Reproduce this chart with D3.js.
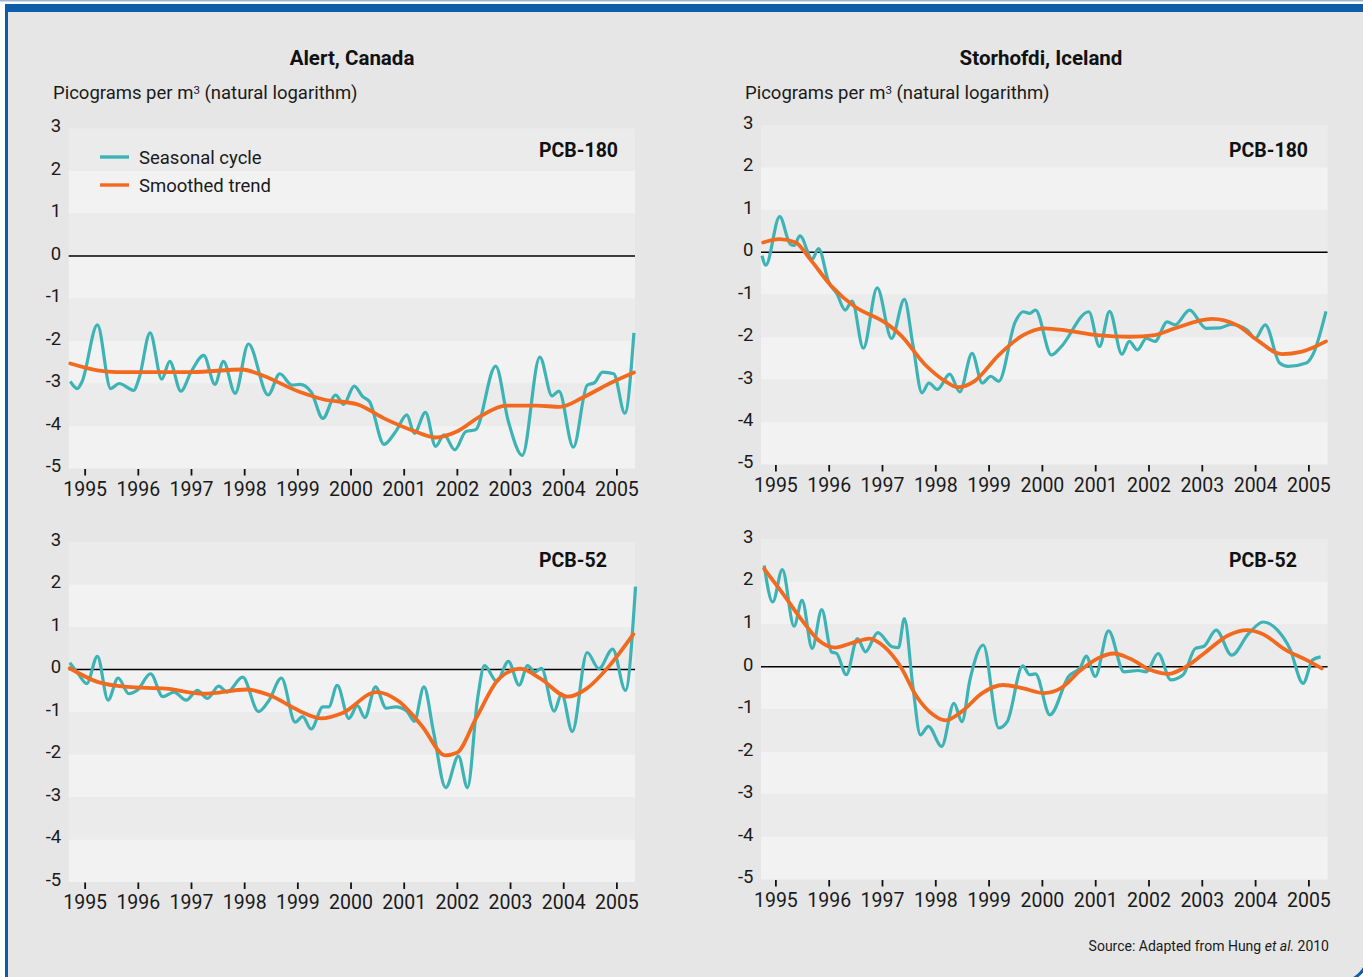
<!DOCTYPE html>
<html>
<head>
<meta charset="utf-8">
<script src="https://cdn.jsdelivr.net/npm/d3@7"></script>
<style>
  body { margin: 0; background: #fff; }
  svg { display: block; font-family: Roboto, "Open Sans", sans-serif; }
</style>
</head>
<body>
<script>
// ---- data ----
var years = [1995, 1996, 1997, 1998, 1999, 2000, 2001, 2002, 2003, 2004, 2005];
var yTicks = [3, 2, 1, 0, -1, -2, -3, -4, -5];
var stations = ["Alert, Canada", "Storhofdi, Iceland"];
var compounds = ["PCB-180", "PCB-52"];
var legendLabels = ["Seasonal cycle", "Smoothed trend"];

// [decimal year, ln(pg/m3)]
var alert180Seasonal = [
  [1994.73,-2.95],[1994.86,-3.12],[1994.95,-2.96],[1995.24,-1.62],[1995.49,-3.12],[1995.65,-3.0],
  [1995.92,-3.16],[1996.03,-2.85],[1996.23,-1.81],[1996.45,-2.9],[1996.6,-2.48],[1996.81,-3.18],
  [1997.0,-2.73],[1997.24,-2.34],[1997.45,-3.02],[1997.61,-2.48],[1997.83,-3.23],[1998.08,-2.07],
  [1998.45,-3.27],[1998.67,-2.77],[1998.9,-3.04],[1999.05,-3.02],[1999.26,-3.2],[1999.48,-3.82],
  [1999.72,-3.27],[1999.87,-3.49],[2000.07,-3.06],[2000.23,-3.31],[2000.36,-3.43],[2000.63,-4.43],
  [2000.85,-4.13],[2001.06,-3.74],[2001.2,-4.17],[2001.41,-3.68],[2001.6,-4.48],[2001.76,-4.21],
  [2001.96,-4.56],[2002.17,-4.13],[2002.35,-4.09],[2002.73,-2.59],[2002.97,-3.9],[2003.23,-4.69],
  [2003.56,-2.38],[2003.79,-3.29],[2003.92,-3.18],[2004.19,-4.5],[2004.45,-3.04],[2004.59,-2.98],
  [2004.74,-2.73],[2004.95,-2.77],[2005.16,-3.7],[2005.33,-1.81]
];
var alert180Trend = [
  [1994.73,-2.53],[1995.24,-2.69],[1995.6,-2.73],[1997.03,-2.73],[1997.97,-2.67],[1998.26,-2.77],
  [1999.05,-3.2],[1999.48,-3.37],[2000.13,-3.49],[2000.63,-3.82],[2001.2,-4.12],[2001.6,-4.27],
  [2002.0,-4.13],[2002.43,-3.78],[2002.93,-3.52],[2003.5,-3.52],[2003.94,-3.55],[2004.37,-3.33],
  [2004.87,-3.0],[2005.33,-2.74]
];
var alert52Seasonal = [
  [1994.72,0.16],[1994.88,-0.1],[1995.04,-0.33],[1995.24,0.31],[1995.44,-0.72],[1995.63,-0.2],
  [1995.83,-0.57],[1995.99,-0.49],[1996.24,-0.1],[1996.47,-0.64],[1996.68,-0.53],[1996.91,-0.72],
  [1997.12,-0.49],[1997.31,-0.68],[1997.52,-0.39],[1997.68,-0.53],[1997.97,-0.18],[1998.27,-0.99],
  [1998.47,-0.72],[1998.7,-0.2],[1998.96,-1.24],[1999.1,-1.11],[1999.26,-1.4],[1999.48,-0.88],
  [1999.59,-0.88],[1999.75,-0.37],[1999.97,-1.15],[2000.13,-0.85],[2000.27,-1.13],[2000.47,-0.41],
  [2000.67,-0.91],[2000.85,-0.88],[2001.06,-0.98],[2001.2,-1.22],[2001.38,-0.41],[2001.56,-1.46],
  [2001.79,-2.78],[2002.03,-2.04],[2002.2,-2.78],[2002.39,-0.68],[2002.52,0.09],[2002.75,-0.28],
  [2002.97,0.19],[2003.17,-0.37],[2003.33,0.09],[2003.47,-0.06],[2003.59,0.03],[2003.83,-0.98],
  [2003.97,-0.57],[2004.17,-1.46],[2004.45,0.4],[2004.67,0.02],[2004.93,0.48],[2005.17,-0.49],
  [2005.36,1.95]
];
var alert52Trend = [
  [1994.72,0.03],[1995.24,-0.29],[1995.81,-0.41],[1996.53,-0.45],[1997.25,-0.57],[1998.04,-0.47],
  [1998.47,-0.6],[1999.05,-0.98],[1999.45,-1.15],[1999.84,-1.03],[2000.49,-0.53],[2000.92,-0.76],
  [2001.35,-1.34],[2001.78,-2.02],[2002.0,-1.96],[2002.36,-1.15],[2002.79,-0.22],[2003.19,0.02],
  [2003.58,-0.22],[2004.08,-0.64],[2004.44,-0.45],[2004.87,0.09],[2005.32,0.83]
];
var storh180Seasonal = [
  [1994.75,-0.08],[1994.82,-0.3],[1995.08,0.84],[1995.28,0.19],[1995.35,0.16],[1995.46,0.39],
  [1995.69,-0.16],[1995.81,0.09],[1996.0,-0.7],[1996.15,-0.97],[1996.31,-1.36],[1996.44,-1.15],
  [1996.65,-2.26],[1996.91,-0.84],[1997.18,-2.03],[1997.42,-1.11],[1997.58,-2.18],[1997.75,-3.31],
  [1997.88,-3.08],[1998.04,-3.23],[1998.27,-2.87],[1998.46,-3.29],[1998.69,-2.38],[1998.88,-3.08],
  [1999.04,-2.92],[1999.19,-3.04],[1999.5,-1.64],[1999.65,-1.4],[1999.77,-1.44],[1999.88,-1.36],
  [2000.18,-2.42],[2000.35,-2.24],[2000.88,-1.4],[2001.08,-2.22],[2001.27,-1.39],[2001.5,-2.4],
  [2001.64,-2.1],[2001.79,-2.3],[2001.96,-2.03],[2002.12,-2.1],[2002.35,-1.64],[2002.5,-1.71],
  [2002.77,-1.36],[2003.08,-1.79],[2003.35,-1.78],[2003.54,-1.7],[2003.85,-1.83],[2004.0,-2.03],
  [2004.19,-1.71],[2004.46,-2.61],[2004.62,-2.69],[2004.96,-2.61],[2005.08,-2.42],[2005.33,-1.39]
];
var storh180Trend = [
  [1994.77,0.23],[1995.08,0.31],[1995.38,0.23],[1995.65,-0.16],[1996.04,-0.78],[1996.5,-1.29],
  [1997.04,-1.64],[1997.35,-1.95],[1997.81,-2.65],[1998.19,-3.04],[1998.42,-3.18],[1998.73,-3.04],
  [1999.19,-2.42],[1999.65,-1.95],[2000.04,-1.79],[2000.5,-1.85],[2001.04,-1.95],[2001.65,-1.99],
  [2002.12,-1.95],[2002.5,-1.79],[2003.19,-1.57],[2003.65,-1.71],[2004.04,-2.07],[2004.5,-2.4],
  [2004.88,-2.34],[2005.33,-2.1]
];
var storh52Seasonal = [
  [1994.79,2.38],[1994.95,1.52],[1995.13,2.28],[1995.35,0.95],[1995.5,1.56],[1995.69,0.43],
  [1995.87,1.34],[1996.05,0.35],[1996.15,0.31],[1996.33,-0.19],[1996.54,0.66],[1996.69,0.35],
  [1996.92,0.8],[1997.19,0.47],[1997.31,0.45],[1997.42,1.13],[1997.58,-0.47],[1997.72,-1.6],
  [1997.87,-1.4],[1998.12,-1.87],[1998.35,-0.86],[1998.5,-1.29],[1998.65,-0.31],[1998.9,0.51],
  [1999.19,-1.44],[1999.35,-1.29],[1999.64,0.02],[1999.77,-0.19],[1999.88,-0.17],[2000.15,-1.13],
  [2000.5,-0.23],[2000.73,0.0],[2000.83,0.25],[2001.0,-0.23],[2001.25,0.84],[2001.54,-0.12],
  [2001.81,-0.09],[2001.96,-0.12],[2002.18,0.31],[2002.42,-0.31],[2002.65,-0.19],[2002.88,0.43],
  [2003.04,0.48],[2003.27,0.86],[2003.56,0.27],[2003.88,0.78],[2004.15,1.05],[2004.42,0.86],
  [2004.65,0.43],[2004.9,-0.39],[2005.08,0.16],[2005.23,0.23]
];
var storh52Trend = [
  [1994.79,2.3],[1995.12,1.75],[1995.5,1.09],[1995.81,0.62],[1996.12,0.45],[1996.42,0.55],
  [1996.77,0.66],[1997.04,0.47],[1997.35,0.0],[1997.65,-0.7],[1997.96,-1.13],[1998.19,-1.26],
  [1998.5,-1.05],[1998.88,-0.62],[1999.27,-0.43],[1999.65,-0.51],[2000.04,-0.62],[2000.35,-0.51],
  [2000.73,-0.08],[2001.04,0.19],[2001.35,0.31],[2001.65,0.19],[2002.04,-0.08],[2002.38,-0.17],
  [2002.65,-0.04],[2003.04,0.31],[2003.5,0.74],[2003.85,0.86],[2004.12,0.78],[2004.58,0.39],
  [2004.96,0.16],[2005.25,-0.04]
];

// ---- layout ----
var W = 1363, H = 977;
var teal = "#3db3b6", orange = "#f26a1f", blue = "#0b5ea8";

var panels = [
  {col: 0, row: 0, seasonal: alert180Seasonal, trend: alert180Trend, x0: 68.7, x1: 635, yTop: 128.5, yBot: 468.5, xd: [1994.70, 2005.35]},
  {col: 1, row: 0, seasonal: storh180Seasonal, trend: storh180Trend, x0: 761, x1: 1327.6, yTop: 125, yBot: 464.5, xd: [1994.73, 2005.36]},
  {col: 0, row: 1, seasonal: alert52Seasonal, trend: alert52Trend, x0: 68.7, x1: 635, yTop: 542, yBot: 882, xd: [1994.70, 2005.35]},
  {col: 1, row: 1, seasonal: storh52Seasonal, trend: storh52Trend, x0: 761, x1: 1327.6, yTop: 539, yBot: 879.5, xd: [1994.73, 2005.36]}
];

var svg = d3.select("body").append("svg")
  .attr("width", W)
  .attr("height", H);

// frame
svg.append("rect").attr("width", W).attr("height", H).attr("fill", "#fff");
svg.append("path")
  .attr("d", "M6.5,8 L1368,8 L1368,954 A28,28 0 0 1 1340,982 L6.5,982 Z")
  .attr("fill", "#e6e6e6")
  .attr("stroke", blue)
  .attr("stroke-width", 3);
svg.append("rect").attr("x", 0).attr("y", 0).attr("width", W).attr("height", 1.5).attr("fill", "#9db7cf");
svg.append("rect").attr("x", 5).attr("y", 4).attr("width", W - 5).attr("height", 8).attr("fill", blue);

// station titles + axis titles
var titleX = [352, 1041], unitX = [53, 745];
stations.forEach(function(s, i) {
  svg.append("text")
    .attr("x", titleX[i]).attr("y", 65)
    .attr("text-anchor", "middle")
    .attr("font-size", 20.5).attr("font-weight", "bold").attr("fill", "#111")
    .text(s);
  var t = svg.append("text")
    .attr("x", unitX[i]).attr("y", 99)
    .attr("font-size", 18.5).attr("fill", "#1a1a1a");
  t.append("tspan").text("Picograms per m");
  t.append("tspan").attr("font-size", 11.5).attr("dy", -5).text("3");
  t.append("tspan").attr("dy", 5).text(" (natural logarithm)");
});

var line = d3.line().curve(d3.curveMonotoneX);

panels.forEach(function(p) {
  var x = d3.scaleLinear().domain(p.xd).range([p.x0, p.x1]);
  var y = d3.scaleLinear().domain([3, -5]).range([p.yTop, p.yBot]);
  line.x(function(d) { return x(d[0]); }).y(function(d) { return y(d[1]); });

  var g = svg.append("g");

  // alternating bands
  g.selectAll(".band")
    .data(d3.range(3, -5, -1))
    .enter().append("rect")
    .attr("x", p.x0)
    .attr("width", p.x1 - p.x0)
    .attr("y", function(d) { return y(d); })
    .attr("height", function(d) { return y(d - 1) - y(d); })
    .attr("fill", function(d, j) { return j % 2 ? "#f2f2f2" : "#ebebeb"; });

  // zero line
  g.append("line")
    .attr("x1", p.x0).attr("x2", p.x1)
    .attr("y1", y(0)).attr("y2", y(0))
    .attr("stroke", "#000").attr("stroke-width", 1.6);

  // y axis labels (plain hyphen minus like the original)
  var yAxis = d3.axisLeft(y).tickValues(yTicks).tickSize(0).tickPadding(0)
    .tickFormat(function(d) { return String(d); });
  var ya = g.append("g")
    .attr("transform", "translate(" + (p.x0 - 7.5) + ",-2.5)")
    .call(yAxis);
  ya.select(".domain").remove();
  ya.selectAll("text").attr("font-size", 18.5).attr("fill", "#1a1a1a").attr("font-family", "Roboto");

  // x axis
  var xAxis = d3.axisBottom(x).tickValues(years).tickFormat(d3.format("d")).tickSize(6.5).tickPadding(6.5);
  var xa = g.append("g")
    .attr("transform", "translate(0," + (p.yBot + 0.5) + ")")
    .call(xAxis);
  xa.select(".domain").remove();
  xa.selectAll("line").attr("stroke", "#111").attr("stroke-width", 1.8);
  xa.selectAll("text").attr("font-size", 19.5).attr("fill", "#1a1a1a").attr("font-family", "Roboto");

  // series
  g.append("path")
    .datum(p.seasonal)
    .attr("d", line)
    .attr("fill", "none")
    .attr("stroke", teal)
    .attr("stroke-width", 3.2)
    .attr("stroke-linejoin", "round");
  g.append("path")
    .datum(p.trend)
    .attr("d", line)
    .attr("fill", "none")
    .attr("stroke", orange)
    .attr("stroke-width", 3.8)
    .attr("stroke-linecap", "round");

  // compound label
  g.append("text")
    .attr("x", p.col ? 1229 : 539)
    .attr("y", p.row ? 567 : 157)
    .attr("font-size", 19.5).attr("font-weight", "bold").attr("fill", "#111")
    .text(compounds[p.row]);
});

// legend (top-left panel only)
var legend = svg.append("g").attr("transform", "translate(100,157)");
[teal, orange].forEach(function(c, i) {
  legend.append("line")
    .attr("x1", 0).attr("x2", 29)
    .attr("y1", i * 28).attr("y2", i * 28)
    .attr("stroke", c).attr("stroke-width", 3.4);
  legend.append("text")
    .attr("x", 39).attr("y", i * 28 + 6.5)
    .attr("font-size", 18.5).attr("fill", "#1a1a1a")
    .text(legendLabels[i]);
});

// source
var src = svg.append("text")
  .attr("x", 1329).attr("y", 951)
  .attr("text-anchor", "end")
  .attr("font-size", 14).attr("fill", "#1a1a1a");
src.append("tspan").text("Source: Adapted from Hung ");
src.append("tspan").attr("font-style", "italic").text("et al.");
src.append("tspan").text(" 2010");
</script>
</body>
</html>
